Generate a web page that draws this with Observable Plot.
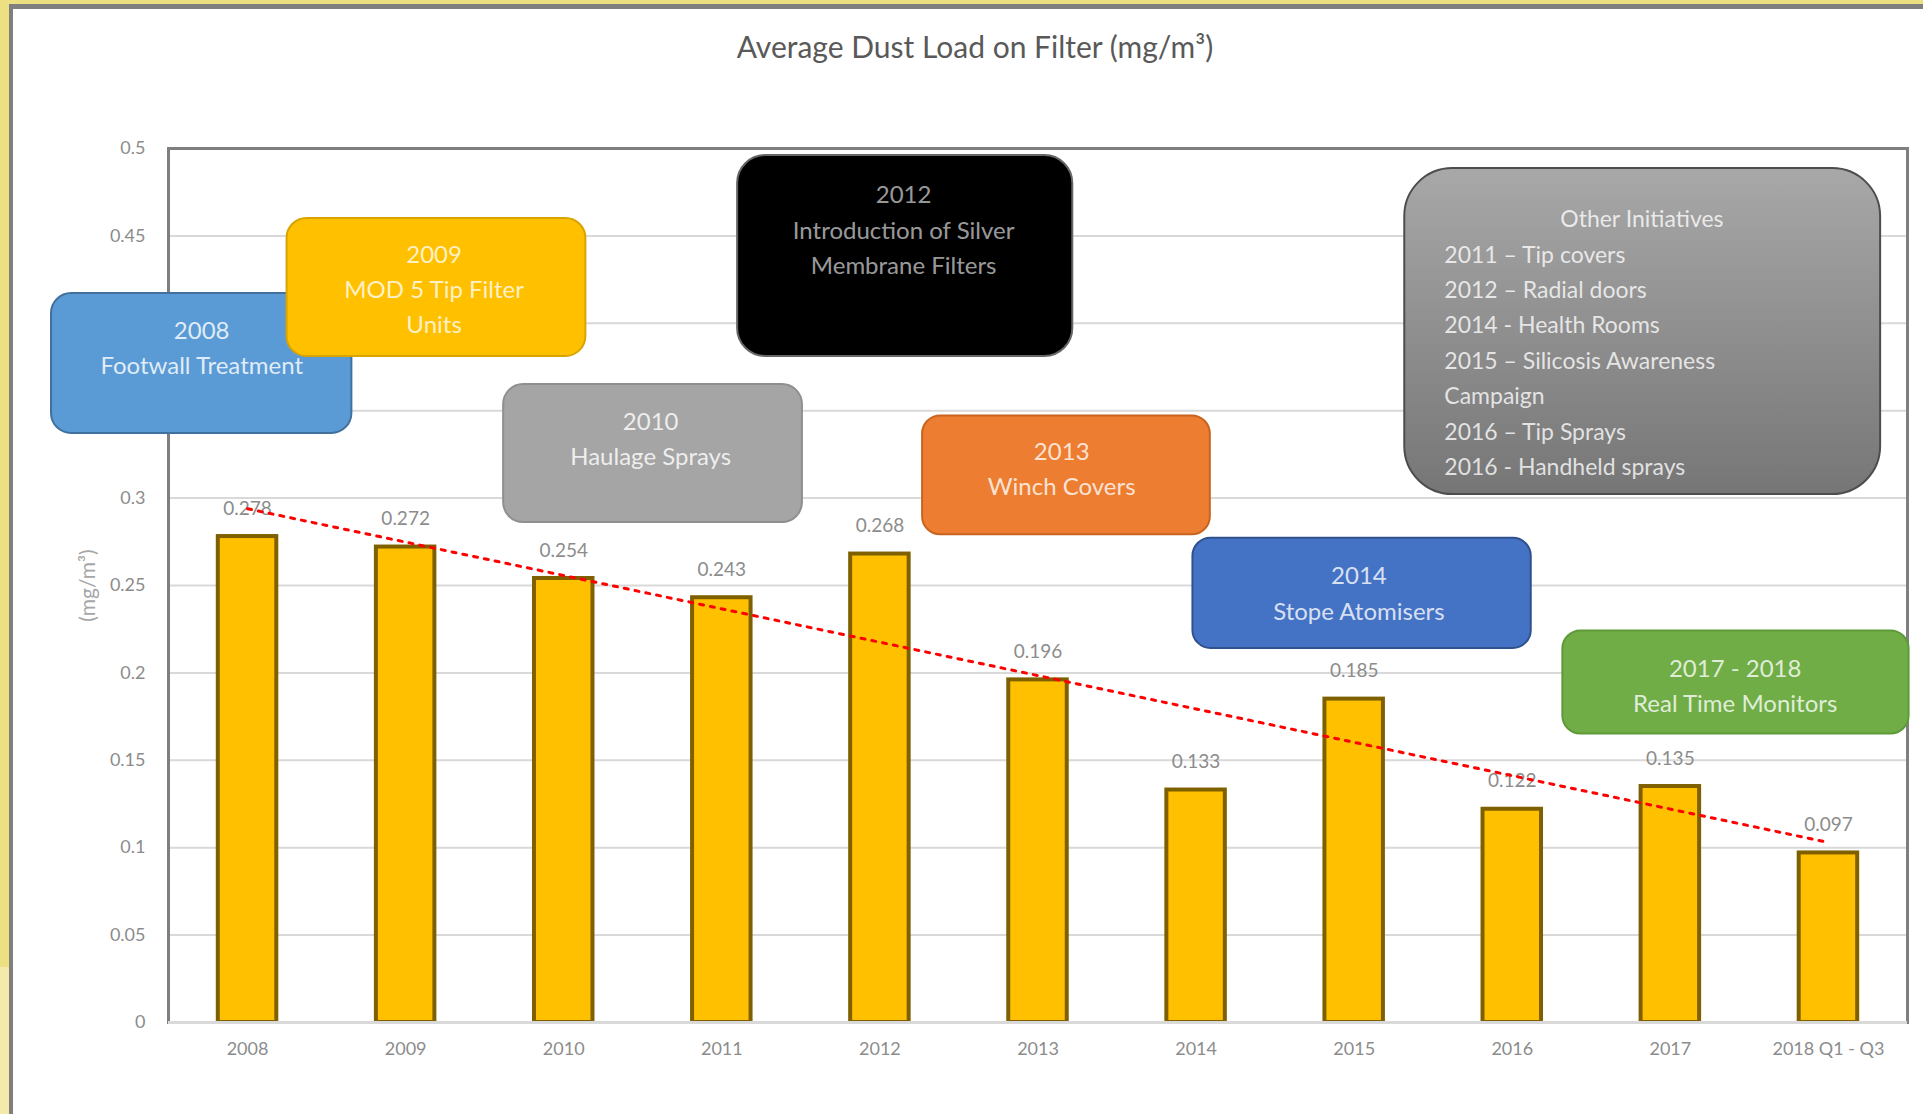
<!DOCTYPE html>
<html><head><meta charset="utf-8">
<script src="https://cdn.jsdelivr.net/npm/d3@7"></script>
<script src="https://cdn.jsdelivr.net/npm/@observablehq/plot@0.6"></script>
<style>
html,body{margin:0;padding:0;width:1923px;height:1114px;overflow:hidden;background:#ECE083;font-family:Lato,"Liberation Sans",sans-serif;}
#frame{position:absolute;left:9px;top:4px;right:0;bottom:0;background:#fff;border-left:4px solid #7f7f7f;border-top:5px solid #7f7f7f;}
#strip{position:absolute;left:0;top:967px;width:9px;bottom:0;background:#F2E9AA;}
#title{position:absolute;left:0;top:28px;width:1950px;text-align:center;font-size:30px;color:#595959;}
#chart{position:absolute;left:0;top:100px;}
</style></head><body>
<div id="frame"></div>
<div id="strip"></div>
<div id="title">Average Dust Load on Filter (mg/m³)</div>
<div id="chart"></div>
<script>
// ---- data ----
const categories = ["2008","2009","2010","2011","2012","2013","2014","2015","2016","2017","2018 Q1 - Q3"];
const values = [0.278,0.272,0.254,0.243,0.268,0.196,0.133,0.185,0.122,0.135,0.097];
const valueLabels = ["0.278","0.272","0.254","0.243","0.268","0.196","0.133","0.185","0.122","0.135","0.097"];
const yTicks = [0,0.05,0.1,0.15,0.2,0.25,0.3,0.35,0.4,0.45,0.5];
const yTickLabels = ["0","0.05","0.1","0.15","0.2","0.25","0.3","0.35","0.4","0.45","0.5"];
const noteTexts = [
  "2008\nFootwall Treatment",
  "2009\nMOD 5 Tip Filter\nUnits",
  "2010\nHaulage Sprays",
  "2012\nIntroduction of Silver\nMembrane Filters",
  "2013\nWinch Covers",
  "2014\nStope Atomisers",
  "2017 - 2018\nReal Time Monitors",
  "Other Initiatives",
  "2011 – Tip covers\n2012 – Radial doors\n2014 - Health Rooms\n2015 – Silicosis Awareness\nCampaign\n2016 – Tip Sprays\n2016 - Handheld sprays"
];

const table = categories.map((c, i) => ({i, cat: c, v: values[i], label: valueLabels[i]}));

// annotation placement (x in category-index units, y in mg/m³)
const boxes = [
  {x1:-1.24, x2:0.66, y1:0.337, y2:0.417, fill:"#5B9BD5", stroke:"#41719C", r:20},
  {x1:0.25, x2:2.14, y1:0.381, y2:0.460, fill:"#FFC000", stroke:"#D9A300", r:20},
  {x1:1.62, x2:3.51, y1:0.286, y2:0.365, fill:"#A5A5A5", stroke:"#8f8f8f", r:20},
  {x1:3.10, x2:5.22, y1:0.381, y2:0.496, fill:"#000000", stroke:"#666666", r:28},
  {x1:4.27, x2:6.09, y1:0.279, y2:0.347, fill:"#ED7D31", stroke:"#C8641E", r:18},
  {x1:5.98, x2:8.12, y1:0.214, y2:0.277, fill:"#4472C4", stroke:"#2F528F", r:18},
  {x1:8.32, x2:10.51, y1:0.165, y2:0.224, fill:"#70AD47", stroke:"#5E9A38", r:18},
  {x1:7.32, x2:10.33, y1:0.302, y2:0.4885, fill:"url(#otherGrad)", stroke:"#4d4d4d", r:48}
];
const noteAnchors = [
  {x:-0.29, y:0.3875, anchor:"middle", color:"#ffffff", op:0.82},
  {x:1.18, y:0.4209, anchor:"middle", color:"#ffffff", op:0.78},
  {x:2.55, y:0.3353, anchor:"middle", color:"#ffffff", op:0.82},
  {x:4.15, y:0.4549, anchor:"middle", color:"#ffffff", op:0.62},
  {x:5.15, y:0.3183, anchor:"middle", color:"#ffffff", op:0.8},
  {x:7.03, y:0.247, anchor:"middle", color:"#ffffff", op:0.8},
  {x:9.41, y:0.1941, anchor:"middle", color:"#ffffff", op:0.8},
  {x:8.82, y:0.4616, anchor:"middle", color:"#ffffff", op:0.78},
  {x:7.57, y:0.3804, anchor:"start", color:"#ffffff", op:0.78}
];

const marks = [
  Plot.ruleY(yTicks.filter(t => t < 0.5), {stroke:"#d9d9d9", strokeWidth:2}),
  Plot.rectY(table, {x1: d => d.i - 0.185, x2: d => d.i + 0.185, y: "v", fill:"#FFC000", stroke:"#7F6000", strokeWidth:4}),
  Plot.text(table, {x:"i", y:"v", text:"label", dy:-28, fill:"#8c8c8c", fontSize:19}),
  Plot.linearRegressionY(table, {x:"i", y:"v", stroke:"#FF0000", strokeWidth:3, strokeDasharray:"4,7", ci:0}),
  Plot.frame({stroke:"#7f7f7f", strokeWidth:3}),
  Plot.ruleY([0], {stroke:"#d9d9d9", strokeWidth:3}),
  Plot.axisX({ticks: categories.map((_, i) => i), tickFormat: i => categories[i], tickSize:0, tickPadding:20, label:null, fontSize:18}),
  Plot.axisY({ticks: yTicks, tickFormat: d => yTickLabels[yTicks.indexOf(d)], tickSize:0, tickPadding:23, fontSize:18, label:null}),
  Plot.axisY({ticks: [], tickSize:0, fontSize:21, label:"(mg/m³)", labelArrow:false, labelAnchor:"center", labelOffset:88, color:"#a6a6a6"})
];
boxes.forEach(b => marks.push(Plot.rect([b], {x1:"x1", x2:"x2", y1:"y1", y2:"y2", fill:b.fill, stroke:b.stroke, strokeWidth:2, rx:b.r})));
noteTexts.forEach((t, k) => {
  const a = noteAnchors[k];
  marks.push(Plot.text([a], {x:"x", y:"y", text: () => t, textAnchor:a.anchor, fill:a.color, fillOpacity:a.op,
    fontSize: k >= 7 ? 23 : 24, lineHeight: k >= 7 ? 1.54 : 1.47}));
});

const chart = Plot.plot({
  width: 1923, height: 1000,
  marginLeft: 168, marginRight: 16, marginTop: 48, marginBottom: 78,
  x: {type:"linear", domain:[-0.5, 10.5]},
  y: {domain:[0, 0.5]},
  style: {background:"transparent", fontFamily:"Lato, 'Liberation Sans', sans-serif", fontSize:"18px", color:"#8c8c8c", overflow:"visible"},
  marks
});
const ns = "http://www.w3.org/2000/svg";
const defs = document.createElementNS(ns, "defs");
defs.innerHTML = '<linearGradient id="otherGrad" x1="0" y1="0" x2="0" y2="1"><stop offset="0" stop-color="#a8a8a8"/><stop offset="1" stop-color="#767676"/></linearGradient>';
chart.insertBefore(defs, chart.firstChild);
document.getElementById("chart").appendChild(chart);
</script>
</body></html>
